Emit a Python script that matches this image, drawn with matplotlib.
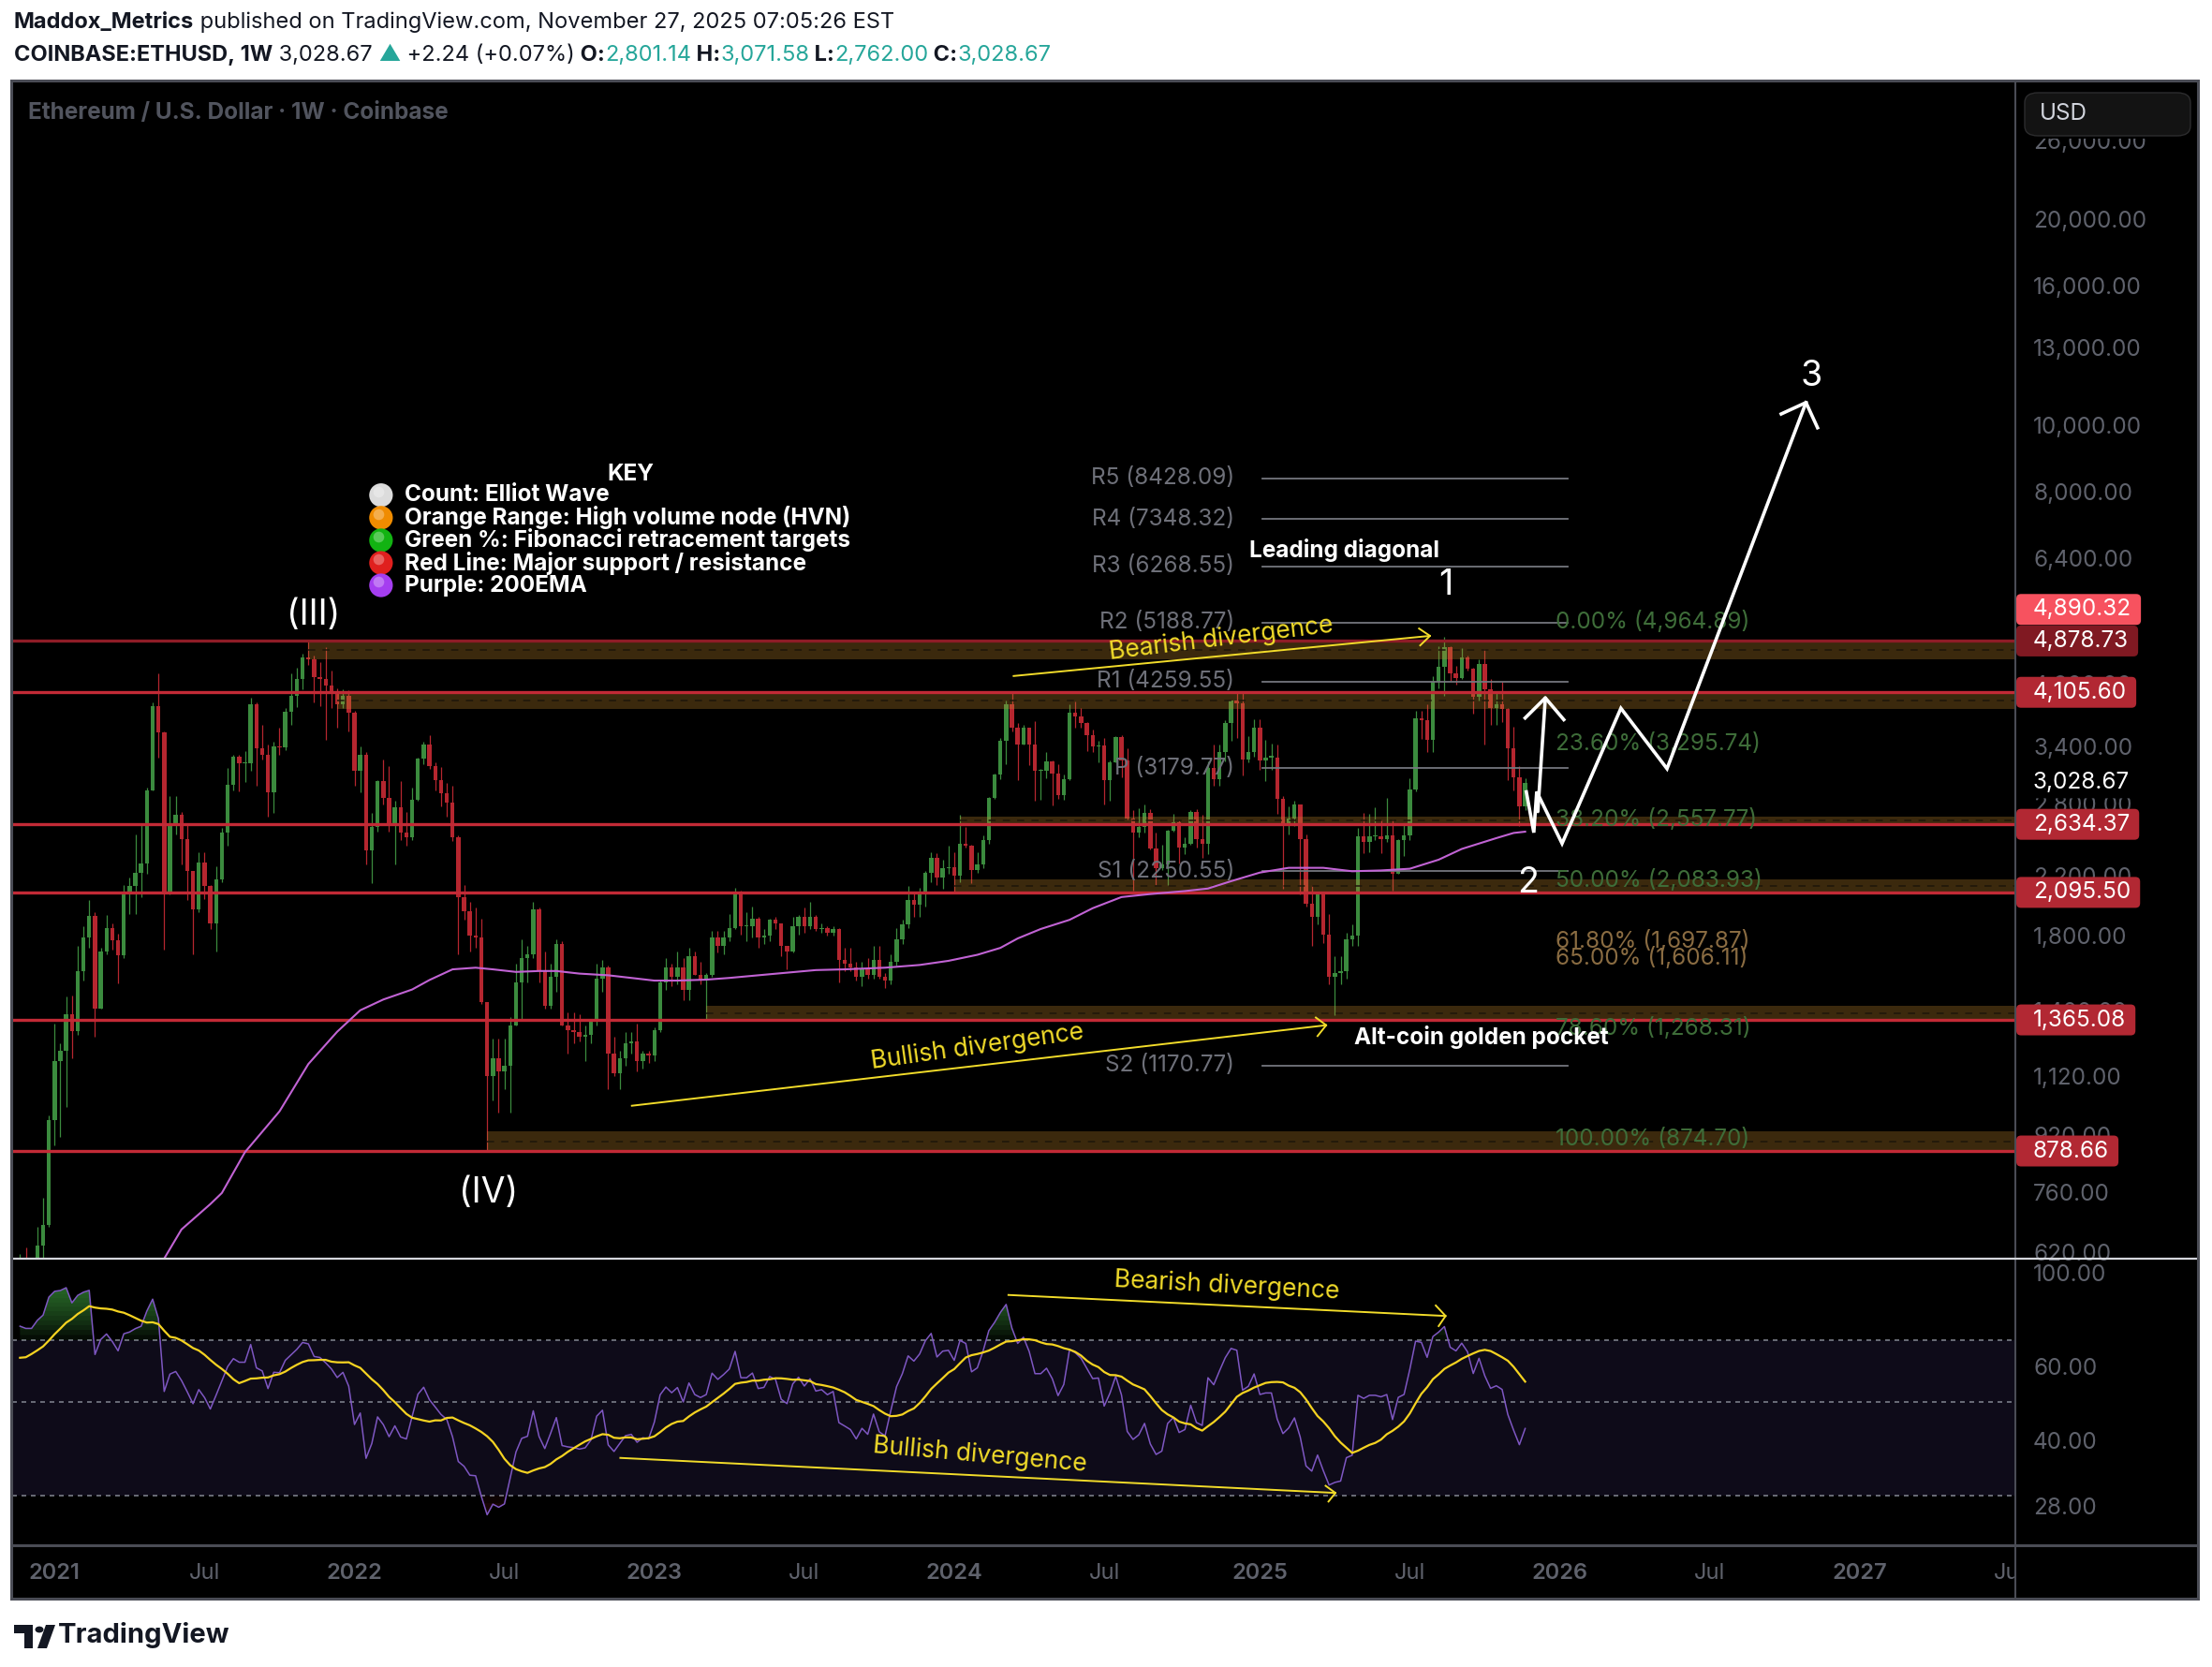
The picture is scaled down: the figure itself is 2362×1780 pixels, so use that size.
import numpy as np
import matplotlib.pyplot as plt
from matplotlib.patches import FancyBboxPatch, Polygon, Circle, Rectangle
from matplotlib.lines import Line2D
from matplotlib.transforms import IdentityTransform, Bbox

plt.rcParams['font.family'] = ['Inter', 'DejaVu Sans']

W, H, DPI = 2362, 1780, 100

# ---------------- data (weekly Coinbase ETHUSD, week 0 = week of 4 Jan 2021) ----------------
first_week = -6   # first drawn bar: week of 23 Nov 2020

# 2020 weekly closes before the first bar, only used to seed the RSI
warmup_closes = [218, 200, 123, 122, 131, 143, 158, 180, 195, 210, 188, 207, 200, 231,
                 245, 233, 228, 225, 240, 240, 240, 310, 385, 395, 430, 390, 430, 355,
                 365, 370, 355, 350, 375, 370, 405, 385, 465, 450, 560]

closes = [
    590, 585, 585, 640, 685, 975,
    # 2021
    1190, 1230, 1390, 1315, 1610, 1800, 1935, 1420, 1720, 1860,
    1785, 1695, 2090, 2140, 2240, 2310, 2950, 3920, 3590, 2100,
    2630, 2720, 2510, 2250, 1980, 2320, 2140, 1890, 2190, 2560,
    3010, 3310, 3230, 3230, 3940, 3400, 3330, 2930, 3420, 3410,
    3840, 4060, 4290, 4610, 4580, 4320, 4300, 4200, 4090, 3940,
    4060, 3830,
    # 2022
    3150, 3330, 2410, 2610, 3050, 2880, 2620, 2790, 2560, 2520,
    2860, 3290, 3450, 3200, 3060, 2920, 2830, 2520, 2060, 1970,
    1810, 1800, 1450, 1130, 1200, 1150, 1170, 1340, 1550, 1680,
    1700, 1980, 1610, 1430, 1580, 1760, 1340, 1320, 1310, 1290,
    1300, 1360, 1570, 1630, 1220, 1140, 1200, 1260, 1270, 1190,
    1220, 1210,
    # 2023
    1320, 1550, 1630, 1580, 1630, 1510, 1690, 1590, 1565, 1590,
    1800, 1750, 1800, 1860, 2090, 1870, 1870, 1920, 1800, 1810,
    1910, 1890, 1750, 1720, 1870, 1930, 1870, 1930, 1850, 1860,
    1830, 1850, 1670, 1650, 1630, 1580, 1620, 1590, 1670, 1580,
    1560, 1660, 1790, 1880, 2040, 2010, 2080, 2240, 2350, 2200,
    2270, 2280,
    # 2024
    2220, 2470, 2450, 2260, 2300, 2500, 2880, 3110, 3490, 3950,
    3650, 3450, 3640, 3450, 3150, 3150, 3250, 3120, 2910, 3070,
    3830, 3780, 3700, 3560, 3420, 3430, 3060, 3240, 3530, 3260,
    2690, 2560, 2610, 2740, 2430, 2270, 2300, 2580, 2650, 2440,
    2470, 2750, 2510, 2470, 3180, 3070, 3360, 3700, 3990, 3960,
    3280, 3360,
    # 2025
    3640, 3270, 3300, 3300, 2870, 2620, 2690, 2820, 2510, 2020,
    1930, 2080, 1820, 1580, 1600, 1610, 1790, 1810, 2530, 2480,
    2530, 2530, 2510, 2540, 2230, 2500, 2540, 2960, 3760, 3740,
    3500, 4260, 4480, 4780, 4380, 4310, 4610, 4450, 4040, 4510,
    4150, 3890, 3950, 3880, 3400, 3090, 2801.14, 3028.67,
]

highs = [
    622, 635, 605, 680, 750, 990,
    1350, 1260, 1475, 1480, 1750, 1870, 2040, 1960, 1740, 1945,
    1890, 1825, 2150, 2200, 2550, 2640, 2980, 3970, 4380, 3600,
    2900, 2900, 2750, 2640, 2250, 2400, 2400, 2150, 2290, 2600,
    3180, 3330, 3330, 3370, 4030, 3970, 3680, 3450, 3480, 3640,
    3890, 4380, 4460, 4670, 4870, 4650, 4550, 4780, 4420, 4160,
    4150, 4130,
    3860, 3420, 3360, 2740, 3060, 3280, 3200, 2850, 3050, 2750,
    2980, 3300, 3480, 3560, 3240, 3190, 3030, 3000, 2540, 2150,
    2030, 1990, 1920, 1450, 1280, 1280, 1280, 1380, 1650, 1790,
    1750, 2030, 1990, 1720, 1650, 1790, 1780, 1400, 1400, 1390,
    1340, 1370, 1650, 1670, 1640, 1290, 1230, 1310, 1310, 1350,
    1230, 1230,
    1330, 1560, 1680, 1650, 1720, 1680, 1740, 1720, 1660, 1600,
    1840, 1840, 1840, 1950, 2130, 2110, 1960, 2000, 1930, 1850,
    1920, 1930, 1890, 1750, 1930, 1940, 1990, 2030, 1940, 1890,
    1870, 1870, 1860, 1740, 1740, 1660, 1660, 1680, 1750, 1750,
    1600, 1700, 1860, 1910, 2140, 2100, 2130, 2250, 2400, 2390,
    2340, 2450,
    2400, 2720, 2610, 2460, 2400, 2540, 2890, 3120, 3520, 3990,
    4090, 3700, 3680, 3640, 3730, 3170, 3360, 3270, 3220, 3110,
    3950, 3980, 3890, 3720, 3620, 3490, 3520, 3260, 3540, 3560,
    3400, 2760, 2780, 2820, 2770, 2560, 2460, 2590, 2730, 2670,
    2520, 2760, 2770, 2720, 3250, 3450, 3450, 3740, 4000, 4110,
    4110, 3540,
    3750, 3750, 3500, 3460, 3440, 2900, 2800, 2850, 2820, 2550,
    2150, 2100, 2100, 1950, 1690, 1690, 1830, 1880, 2600, 2740,
    2730, 2790, 2680, 2880, 2680, 2510, 2640, 3080, 3860, 3860,
    3940, 4330, 4790, 4950, 4790, 4490, 4770, 4650, 4460, 4580,
    4750, 4290, 4090, 4250, 3900, 3660, 3200, 3071.58,
]

lows = [
    480, 540, 530, 580, 560, 680,
    895, 920, 1020, 1200, 1300, 1560, 1740, 1290, 1420, 1700,
    1730, 1545, 1680, 1950, 1950, 2060, 2230, 2950, 3300, 1730,
    2080, 2550, 2300, 2040, 1700, 1960, 2050, 1850, 1720, 2170,
    2450, 2950, 2940, 3040, 3150, 3000, 3280, 2700, 2740, 3330,
    3380, 3680, 3910, 4150, 4500, 3970, 3920, 3500, 3900, 3640,
    3900, 3600,
    3000, 2930, 2300, 2160, 2570, 2820, 2570, 2300, 2500, 2450,
    2500, 2850, 3220, 3170, 2950, 2800, 2700, 2490, 1700, 1910,
    1720, 1740, 1440, 880, 1040, 1000, 1080, 1000, 1340, 1360,
    1550, 1680, 1550, 1420, 1420, 1500, 1340, 1220, 1260, 1270,
    1190, 1260, 1340, 1500, 1080, 1130, 1080, 1170, 1220, 1150,
    1160, 1180,
    1190, 1310, 1510, 1530, 1540, 1460, 1460, 1590, 1540, 1370,
    1580, 1710, 1700, 1780, 1850, 1820, 1780, 1800, 1740, 1760,
    1780, 1850, 1690, 1620, 1710, 1820, 1830, 1850, 1840, 1830,
    1810, 1810, 1550, 1610, 1610, 1560, 1530, 1570, 1570, 1570,
    1520, 1540, 1640, 1760, 1860, 1930, 1930, 2000, 2170, 2150,
    2120, 2230,
    2100, 2170, 2440, 2160, 2240, 2270, 2470, 2870, 3070, 3220,
    3600, 3060, 3440, 3210, 2850, 2860, 3080, 2810, 2870, 2860,
    3060, 3640, 3640, 3370, 3360, 3240, 2820, 2850, 3240, 3090,
    2680, 2110, 2520, 2560, 2420, 2150, 2260, 2150, 2570, 2310,
    2380, 2460, 2440, 2350, 2380, 3000, 3000, 3250, 3490, 3520,
    3100, 3240,
    3310, 3160, 3050, 3160, 2730, 2120, 2550, 2620, 2080, 2000,
    1750, 1880, 1770, 1540, 1385, 1540, 1570, 1750, 1750, 2390,
    2400, 2500, 2390, 2480, 2110, 2230, 2370, 2500, 2940, 3510,
    3360, 3360, 4160, 4060, 4270, 4210, 4300, 4420, 3820, 4000,
    3440, 3680, 3680, 3710, 3060, 2950, 2620, 2762.00,
]
assert len(closes) == len(highs) == len(lows)

# 200 EMA
ema_weeks = [18, 19, 22, 27, 29, 33, 39, 44, 49, 53, 57, 62, 65, 69, 73, 76, 80, 84, 87, 91,
             96, 100, 104, 108, 113, 117, 122, 127, 132, 137, 144, 150, 155, 160, 164, 167, 171, 176, 180, 185,
             190, 196, 200, 204, 209, 214, 220, 225, 230, 235, 240, 244, 250, 253, 255]
ema_values = [590, 612, 675, 735, 763, 875, 1004, 1177, 1312, 1410, 1462, 1512, 1561, 1618, 1627, 1618, 1604, 1609, 1609, 1595,
              1586, 1572, 1558, 1558, 1563, 1572, 1586, 1600, 1614, 1618, 1627, 1642, 1665, 1699, 1739, 1795, 1853, 1911, 1987, 2063,
              2084, 2105, 2123, 2176, 2240, 2276, 2276, 2250, 2256, 2269, 2339, 2425, 2515, 2559, 2570]

red_levels = [4878.73, 4105.60, 2634.37, 2095.50, 1365.08, 878.66]
red_colors = ['#8e1c27', '#c22a36', '#c22a36', '#c22a36', '#c22a36', '#c22a36']
hvn_start = [44, 49, 157, 156, 113, 75]
hvn_low = [4582, 3882, 2634.37, 2095.50, 1365.08, 878.66]
hvn_high = [4878.73, 4105.60, 2705, 2190, 1430, 938]

pivot_names = ['R5', 'R4', 'R3', 'R2', 'R1', 'P', 'S1', 'S2']
pivot_values = [8428.09, 7348.32, 6268.55, 5188.77, 4259.55, 3179.77, 2250.55, 1170.77]

fib_names = ['0.00%', '23.60%', '38.20%', '50.00%', '61.80%', '65.00%', '78.60%', '100.00%']
fib_values = [4964.89, 3295.74, 2557.77, 2083.93, 1697.87, 1606.11, 1268.31, 874.70]

price_ticks = [26000, 20000, 16000, 13000, 10000, 8000, 6400, 4200, 3400, 2800,
               2200, 1800, 1400, 1120, 920, 760, 620]
rsi_ticks = [100, 60, 40, 28]
time_labels = ['2021', 'Jul', '2022', 'Jul', '2023', 'Jul', '2024', 'Jul', '2025', 'Jul',
               '2026', 'Jul', '2027', 'Jul']
time_weeks = [0, 26, 52, 78, 104, 130, 156, 182, 209, 235, 261, 287, 313, 339]

tag_text = ['4,890.32', '4,878.73', '4,105.60', '3,028.67', '2,634.37', '2,095.50', '1,365.08', '878.66']
tag_at = [5424, 4878.73, 4105.60, 3028.67, 2634.37, 2095.50, 1365.08, 878.66]
tag_bg = ['#f7525f', '#801922', '#b22833', 'black', '#b22833', '#b22833', '#b22833', '#b22833']

wave_labels = ['(III)', '(IV)', '1', '2', '3']
wave_weeks = [44.8, 75.2, 241.3, 255.5, 304.6]
wave_prices = [5323, 762, 5882, 2162, 11860]

# projected path (white) and the small rebound arrow
proj_weeks = [255.2, 256.5, 257.0, 261.4, 271.6, 279.6, 303.7]
proj_prices = [2938, 2562, 2940, 2470, 3891, 3176, 10873]

key_items = ['Count: Elliot Wave', 'Orange Range: High volume node (HVN)',
             'Green %: Fibonacci retracement targets', 'Red Line: Major support / resistance',
             'Purple: 200EMA']
key_colors = ['#dcdcdc', '#f08c00', '#12b312', '#e0201e', '#a53ef0']
key_prices = [7965, 7383, 6843, 6343, 5882]

GREEN = '#3b8b3e'
RED = '#b5262f'
AXIS = '#5f626c'
GREY = '#6e7079'
YEL = '#f2dc2a'

# ---------------- figure ----------------
fig = plt.figure(figsize=(W / DPI, H / DPI), dpi=DPI)
fig.patch.set_facecolor('white')


def fx(px):
    return px / W


def fy(py):
    return 1 - py / H


TOP, SPLIT, BOT, TAX, LEFT, RIGHT, OUTR = 87.4, 1343.7, 1649.5, 1707, 13, 2152, 2347

fig.add_artist(Rectangle((fx(11), fy(TAX)), fx(OUTR) - fx(11), fy(TOP) - fy(TAX),
                         transform=fig.transFigure, fc='black', ec='none', zorder=-5))

ax = fig.add_axes([fx(LEFT), fy(SPLIT), fx(RIGHT) - fx(LEFT), fy(TOP) - fy(SPLIT)])
ax2 = fig.add_axes([fx(LEFT), fy(BOT), fx(RIGHT) - fx(LEFT), fy(SPLIT) - fy(BOT)])
for a in (ax, ax2):
    a.set_facecolor('black')
    a.set_yscale('log')
    a.set_xlim(-7.36, 340.0)
    for s in a.spines.values():
        s.set_visible(False)
    a.set_xticks([])
    a.set_yticks([])
    a.set_yticks([], minor=True)
ax.set_ylim(612.4, 31950)
ax2.set_ylim(22.9, 109.4)

# ---- candles ----
n = len(closes)
weeks = np.arange(first_week, first_week + n)
c = np.array(closes, float)
o = np.array([warmup_closes[-1]] + closes[:-1], float)
hi = np.array(highs, float)
lo = np.array(lows, float)
col = np.where(c >= o, GREEN, RED)
ax.vlines(weeks, lo, hi, colors=col, lw=0.9, zorder=3)
bot = np.minimum(o, c)
top = np.maximum(np.maximum(o, c), bot * 1.004)
ax.bar(weeks, top - bot, bottom=bot, width=0.72, color=col, lw=0, zorder=3)

# ---- HVN bands and red lines ----
for s, l, h in zip(hvn_start, hvn_low, hvn_high):
    ax.fill_between([s, 345], l, h, color='#c58a2e', alpha=0.3, lw=0, zorder=4)
    m = np.sqrt(l * h)
    ax.plot([s, 345], [m, m], color='#1e160a', lw=1.1, ls=(0, (5, 5)), zorder=4)
for lv, cc in zip(red_levels, red_colors):
    ax.axhline(lv, color=cc, lw=2.4, zorder=5)

# ---- pivots ----
for nm, v in zip(pivot_names, pivot_values):
    ax.plot([209.4, 262.3], [v, v], color='#74767e', lw=1.3, zorder=5)
    ax.text(204.6, v, f'{nm} ({v:.2f})', color=GREY, fontsize=17.5, ha='right', va='center', zorder=6)

# ---- fib labels ----
for nm, v in zip(fib_names, fib_values):
    cc = '#8a6c42' if nm in ('61.80%', '65.00%') else '#3e6d39'
    ax.annotate(f'{nm} ({v:,.2f})', (260.3, v), xytext=(0, 2), textcoords='offset points',
                color=cc, fontsize=17.5, ha='left', va='bottom', zorder=6)

# ---- 200 EMA ----
ax.plot(ema_weeks, ema_values, color='#c163d4', lw=1.5, zorder=6)

# ---- divergence lines (price) ----
ax.plot([166.3, 238.5], [4337, 4963], color=YEL, lw=1.4, zorder=7)
ax.plot([236.6, 238.5, 236.8], [5087, 4963, 4807], color=YEL, lw=1.4, zorder=7)
ax.text(202.3, 4920, 'Bearish divergence', color=YEL, fontsize=19, rotation=7,
        ha='center', va='center', rotation_mode='anchor', zorder=7)
ax.plot([100.1, 220.5], [1023, 1341], color=YEL, lw=1.4, zorder=7)
ax.plot([218.7, 220.5, 219.0], [1376, 1341, 1293], color=YEL, lw=1.4, zorder=7)
ax.text(160.0, 1247, 'Bullish divergence', color=YEL, fontsize=19, rotation=8,
        ha='center', va='center', rotation_mode='anchor', zorder=7)

# ---- projection ----
ax.plot([257.2, 258.5], [2750, 4029], color='white', lw=2.6, zorder=8, solid_capstyle='round')
ax.plot([255.0, 258.5, 261.7], [3766, 4029, 3745], color='white', lw=2.6, zorder=8)
ax.plot(proj_weeks, proj_prices, color='white', lw=2.6, zorder=8, solid_joinstyle='miter')
ax.plot([299.4, 303.7, 305.7], [10464, 10873, 9990], color='white', lw=2.6, zorder=8)

# ---- wave labels & notes ----
for t, wk, p in zip(wave_labels, wave_weeks, wave_prices):
    ax.text(wk, p, t, color='white', fontsize=27, ha='center', va='center', zorder=9)
ax.text(223.6, 6620, 'Leading diagonal', color='white', fontsize=17.5, fontweight='bold',
        ha='center', va='center', zorder=9)
ax.text(247.4, 1289, 'Alt-coin golden pocket', color='white', fontsize=17.5, fontweight='bold',
        ha='center', va='center', zorder=9)

# ---- key ----
ax.text(99.9, 8551, 'KEY', color='white', fontsize=17.5, fontweight='bold', ha='center', va='center', zorder=9)
ax.scatter([56.6] * 5, key_prices, s=330, c=key_colors, lw=0, zorder=9)
ax.scatter([56.2] * 5, [p * 1.013 for p in key_prices], s=70, c='white', alpha=0.3, lw=0, zorder=9)
for t, p in zip(key_items, key_prices):
    ax.text(60.7, p, t, color='white', fontsize=17.5, fontweight='bold', ha='left', va='center', zorder=9)

# ---- right price scale ----
ytr = ax.get_yaxis_transform()
for v in price_ticks:
    ax.text(1.0089, v, f'{v:,.2f}', transform=ytr, color=AXIS, fontsize=17.5, ha='left', va='center', clip_on=False)

# ---------------- RSI ----------------
allc = np.array(warmup_closes + closes, float)
d = np.diff(allc)
g = np.clip(d, 0, None)
dn = np.clip(-d, 0, None)
N = 14
ag = np.full(len(d), np.nan)
al = np.full(len(d), np.nan)
ag[N - 1] = g[:N].mean()
al[N - 1] = dn[:N].mean()
for i in range(N, len(d)):
    ag[i] = (ag[i - 1] * (N - 1) + g[i]) / N
    al[i] = (al[i - 1] * (N - 1) + dn[i]) / N
rsi_all = 100 - 100 / (1 + ag / al)
ma_all = np.array([np.mean(rsi_all[i - N + 1:i + 1]) if i >= 2 * N - 2 else np.nan
                   for i in range(len(rsi_all))])
k0 = len(warmup_closes) - 1
rsi = rsi_all[k0:k0 + n]
rsi_ma = ma_all[k0:k0 + n]

ax2.axhspan(30, 70, color='#0e0b19', lw=0, zorder=0)
for lv in (70, 50, 30):
    ax2.axhline(lv, color='#7a7d88', lw=1.2, ls=(0, (3, 3)), zorder=1)
for t in np.linspace(70, 96, 14):
    ax2.fill_between(weeks, t, rsi, where=rsi > t, interpolate=True, color='#3f9c3f',
                     alpha=0.085, lw=0, zorder=2)
for t in np.linspace(30, 24, 6):
    ax2.fill_between(weeks, rsi, t, where=rsi < t, interpolate=True, color='#b22833',
                     alpha=0.08, lw=0, zorder=2)
ax2.plot(weeks, rsi, color='#7e57c2', lw=1.1, zorder=3)
ax2.plot(weeks, rsi_ma, color='#f5d321', lw=1.6, zorder=4)

ax2.plot([165.4, 241.2], [89.6, 79.9], color=YEL, lw=1.4, zorder=5)
ax2.plot([239.5, 241.2, 240.0], [84.6, 79.9, 75.6], color=YEL, lw=1.4, zorder=5)
ax2.text(203.3, 94.0, 'Bearish divergence', color=YEL, fontsize=19, rotation=-3,
         ha='center', va='center', rotation_mode='anchor', zorder=5)
ax2.plot([98.1, 222.1], [36.8, 30.4], color=YEL, lw=1.4, zorder=5)
ax2.plot([220.4, 222.1, 220.9], [31.6, 30.4, 29.0], color=YEL, lw=1.4, zorder=5)
ax2.text(160.5, 37.4, 'Bullish divergence', color=YEL, fontsize=19, rotation=-5,
         ha='center', va='center', rotation_mode='anchor', zorder=5)

ytr2 = ax2.get_yaxis_transform()
for v in rsi_ticks:
    ax2.text(1.0089, v, f'{v:.2f}', transform=ytr2, color=AXIS, fontsize=17.5, ha='left', va='center', clip_on=False)

# time axis
xtr = ax2.get_xaxis_transform()
clip = Bbox.from_extents(LEFT, H - TAX, RIGHT, H - BOT)
for lbl, wk in zip(time_labels, time_weeks):
    t = ax2.text(wk, -(1680.5 - BOT) / (BOT - SPLIT), lbl, transform=xtr, color=AXIS, fontsize=17,
                 fontweight='semibold' if lbl != 'Jul' else 'normal', ha='center', va='center')
    t.set_clip_box(clip)
    t.set_clip_on(True)

# ---------------- frame, separators ----------------
def fline(x0, y0, x1, y1, color, lw):
    fig.add_artist(Line2D([fx(x0), fx(x1)], [fy(y0), fy(y1)], transform=fig.transFigure,
                          color=color, lw=lw, zorder=6))


fline(RIGHT, TOP, RIGHT, TAX, '#4a4c55', 1.5)
fline(LEFT, BOT, OUTR, BOT, '#4a4c55', 2.2)
fline(LEFT, SPLIT, OUTR, SPLIT, '#d4d6dc', 1.6)
fig.add_artist(Rectangle((fx(11.5), fy(TAX)), fx(OUTR) - fx(11.5), fy(TOP - 1) - fy(TAX),
                         transform=fig.transFigure, fc='none', ec='#4a4c55', lw=2.2, zorder=7))

# USD button (covers the top half of the 26,000 label)
fig.add_artist(Rectangle((fx(RIGHT + 2), fy(148)), fx(OUTR - 2) - fx(RIGHT + 2), fy(90) - fy(148),
                         transform=fig.transFigure, fc='black', ec='none', zorder=4))
fig.add_artist(FancyBboxPatch((fx(2162), fy(145)), fx(2339) - fx(2162), fy(99) - fy(145),
                              boxstyle='round,pad=0,rounding_size=0.006', transform=fig.transFigure,
                              fc='#131313', ec='#2c2c2e', lw=1.0, zorder=5))
fig.text(fx(2178), fy(122), 'USD', color='#d1d4dc', fontsize=17.5, ha='left', va='center', zorder=6)

# price tags on the scale
r = fig.canvas.get_renderer()
for txt, at, bg in zip(tag_text, tag_at, tag_bg):
    yd = ax.transData.transform((0, at))[1]
    t = fig.text(2171, yd, txt, transform=IdentityTransform(), color='white', fontsize=17.5,
                 ha='left', va='center', zorder=6)
    bb = t.get_window_extent(renderer=r)
    fig.add_artist(FancyBboxPatch((RIGHT + 1, yd - 16.5), bb.x1 + 10 - (RIGHT + 1), 33,
                                  boxstyle='round,pad=0,rounding_size=5', transform=IdentityTransform(),
                                  fc=bg, ec='none', zorder=5))

# ---------------- header ----------------
def put_line(x, y, parts, size):
    for s, cc, wt in parts:
        t = fig.text(x, H - y, s, transform=IdentityTransform(), color=cc, fontsize=size,
                     fontweight=wt, ha='left', va='center')
        x = t.get_window_extent(renderer=r).x1


DARK = '#131722'
TEAL = '#26a69a'
put_line(15, 24, [('Maddox_Metrics', DARK, 'bold'),
                  (' published on TradingView.com, November 27, 2025 07:05:26 EST', DARK, 'normal')], 17)
put_line(15, 59, [('COINBASE:ETHUSD, 1W', DARK, 'bold'), (' 3,028.67', DARK, 'normal'),
                  (' \u25B2', TEAL, 'normal'), (' +2.24 (+0.07%)', DARK, 'normal'),
                  (' O:', DARK, 'bold'), ('2,801.14', TEAL, 'normal'),
                  (' H:', DARK, 'bold'), ('3,071.58', TEAL, 'normal'),
                  (' L:', DARK, 'bold'), ('2,762.00', TEAL, 'normal'),
                  (' C:', DARK, 'bold'), ('3,028.67', TEAL, 'normal')], 17)

fig.text(fx(30), fy(121), 'Ethereum / U.S. Dollar \u00b7 1W \u00b7 Coinbase', color='#51545e',
         fontsize=17.5, fontweight='bold', ha='left', va='center', zorder=6)

# TradingView logo
logo_t = [(15, 1735), (35, 1735), (35, 1760), (26, 1760), (26, 1744), (15, 1744)]
fig.add_artist(Polygon([(fx(a), fy(b)) for a, b in logo_t], closed=True, transform=fig.transFigure,
                       fc=DARK, ec='none'))
fig.add_artist(Circle((fx(42), fy(1740)), 4.5 / W, transform=fig.transFigure, fc=DARK, ec='none'))
logo_s = [(49, 1735), (59, 1735), (50, 1760), (40, 1760)]
fig.add_artist(Polygon([(fx(a), fy(b)) for a, b in logo_s], closed=True, transform=fig.transFigure,
                       fc=DARK, ec='none'))
fig.text(fx(62), fy(1746), 'TradingView', color=DARK, fontsize=21, fontweight='bold',
         ha='left', va='center')

fig.savefig('out.png', dpi=DPI, facecolor='white')
